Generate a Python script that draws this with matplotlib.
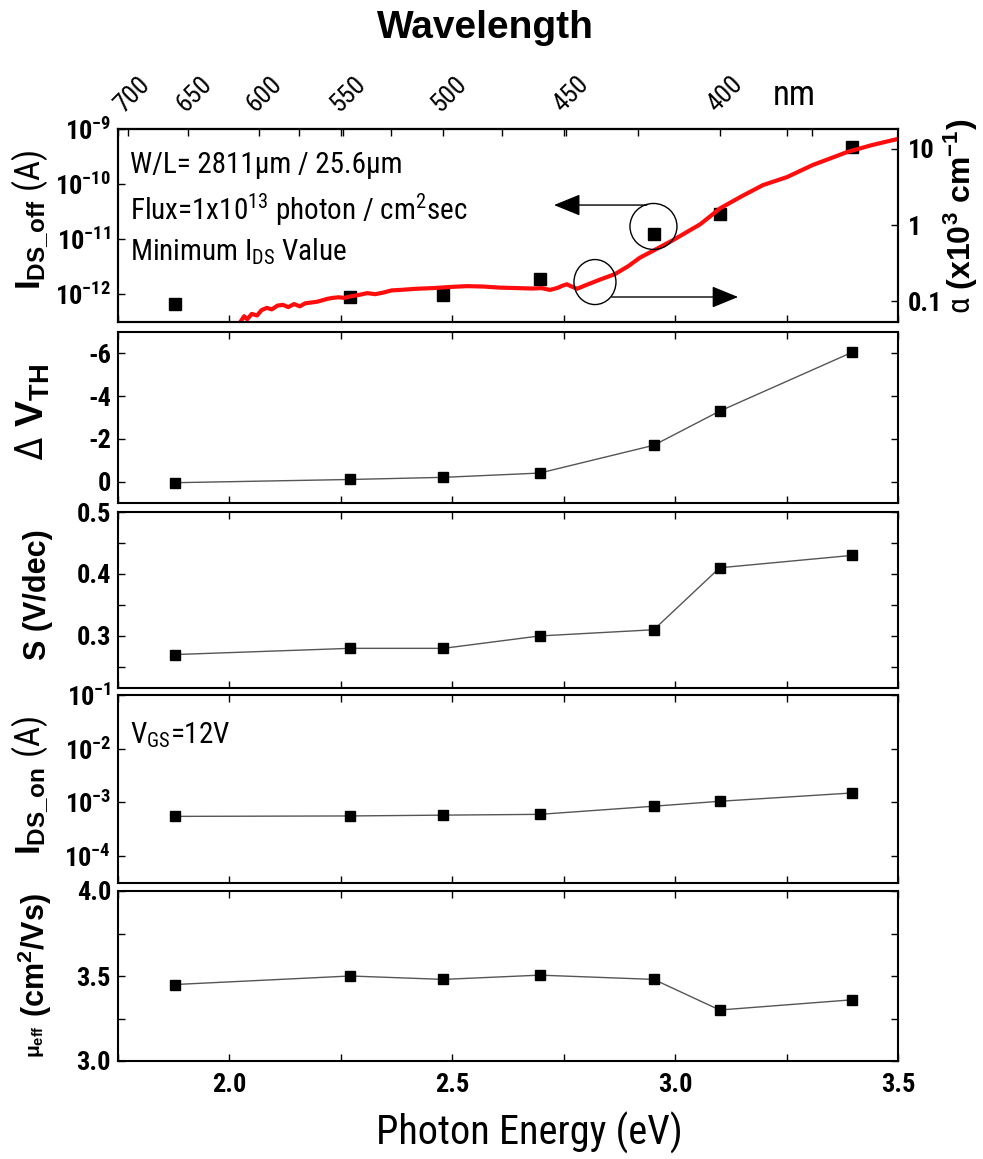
import numpy as np
import matplotlib
matplotlib.use("Agg")
import matplotlib.pyplot as plt
import matplotlib.font_manager as fm
from matplotlib.patches import Ellipse
from matplotlib.ticker import (FixedLocator, FixedFormatter, FuncFormatter,
                               MultipleLocator, NullLocator)

# ---------------------------------------------------------------- fonts
_installed = {f.name for f in fm.fontManager.ttflist}
WIDE = "Liberation Sans"
NARROW = WIDE
for _cand in ("Liberation Sans Narrow", "Roboto Condensed"):
    if _cand in _installed:
        NARROW = _cand
        break
IS_NARROW = NARROW != WIDE

plt.rcParams.update({
    "font.family": [NARROW, "DejaVu Sans"],
    "font.weight": "bold",
    "axes.unicode_minus": False,
    "mathtext.fontset": "custom",
    "mathtext.rm": NARROW + ":weight=normal",
    "mathtext.it": NARROW + ":italic:weight=normal",
    "mathtext.bf": NARROW + ":weight=bold",
    "mathtext.sf": WIDE + ":weight=bold",
    "xtick.labelsize": 19 if IS_NARROW else 17.5,
    "ytick.labelsize": 19 if IS_NARROW else 17.5,
})

# ---------------------------------------------------------------- data
wavelength_nm = [660, 546, 500, 460, 420, 400, 365]
photon_energy = [1.879, 2.271, 2.480, 2.696, 2.952, 3.100, 3.397]

ids_off = [6.6e-13, 8.9e-13, 9.6e-13, 1.9e-12, 1.23e-11, 2.9e-11, 4.7e-10]
delta_vth = [0.05, -0.1, -0.2, -0.4, -1.7, -3.3, -6.05]
swing = [0.27, 0.28, 0.28, 0.30, 0.31, 0.41, 0.43]
ids_on = [5.5e-4, 5.6e-4, 5.8e-4, 6.0e-4, 8.5e-4, 1.05e-3, 1.5e-3]
mobility = [3.45, 3.50, 3.48, 3.505, 3.48, 3.30, 3.36]

# absorption coefficient spectrum (x10^3 cm^-1)
absorption_energy = [
    2.024, 2.033, 2.040, 2.050, 2.062, 2.072, 2.084, 2.095, 2.108, 2.120,
    2.132, 2.145, 2.158, 2.170, 2.183, 2.196, 2.208, 2.220, 2.232, 2.245,
    2.258, 2.271, 2.290, 2.309, 2.327, 2.345, 2.364, 2.383, 2.420, 2.457,
    2.495, 2.533, 2.570, 2.607, 2.645, 2.680, 2.700, 2.719, 2.735, 2.746,
    2.757, 2.768, 2.780, 2.800, 2.831, 2.865, 2.895, 2.921, 2.960, 2.995,
    3.030, 3.056, 3.080, 3.101, 3.150, 3.197, 3.251, 3.309, 3.350, 3.386,
    3.440, 3.498,
]
absorption_alpha = [
    0.0525, 0.0631, 0.0575, 0.0676, 0.0646, 0.0759, 0.0813, 0.0776, 0.0871, 0.0891,
    0.0832, 0.0912, 0.0851, 0.0933, 0.0955, 0.0977, 0.102, 0.107, 0.110, 0.112,
    0.110, 0.115, 0.120, 0.127, 0.123, 0.129, 0.138, 0.140, 0.145, 0.148,
    0.153, 0.157, 0.155, 0.150, 0.148, 0.146, 0.148, 0.140, 0.148, 0.158,
    0.166, 0.155, 0.145, 0.162, 0.191, 0.226, 0.288, 0.372, 0.490, 0.631,
    0.832, 1.02, 1.32, 1.66, 2.40, 3.35, 4.27, 6.17, 7.59, 9.12,
    11.2, 13.5,
]

wl_major = [700, 650, 600, 550, 500, 450, 400]
wl_minor = [575, 525, 475, 425, 375]
alpha_ticks = [0.1, 1, 10]
alpha_labels = ["0.1", "1", "10"]

# ---------------------------------------------------------------- layout
FW, FH = 983, 1159
fig = plt.figure(figsize=(FW / 100, FH / 100), dpi=100)


def box(top, bottom, left=118, right=898):
    return [left / FW, 1 - bottom / FH, (right - left) / FW, (bottom - top) / FH]


ax1 = fig.add_axes(box(129, 322))
ax2 = fig.add_axes(box(332, 503))
ax3 = fig.add_axes(box(512, 688))
ax4 = fig.add_axes(box(695, 883))
ax5 = fig.add_axes(box(891, 1061))
panels = [ax1, ax2, ax3, ax4, ax5]

SPINE_W = 1.5
for ax in panels:
    ax.set_xlim(1.75, 3.5)
    ax.xaxis.set_major_locator(MultipleLocator(0.5))
    ax.xaxis.set_minor_locator(MultipleLocator(0.25))
    ax.tick_params(axis="both", which="both", direction="in", length=5,
                   width=1, top=True, right=True, labelbottom=False)
    ax.tick_params(axis="y", pad=5)
    ax.tick_params(axis="x", pad=9)
    for s in ax.spines.values():
        s.set_linewidth(SPINE_W)
ax1.tick_params(top=False, right=False)
ax5.tick_params(labelbottom=True)
ax5.xaxis.set_major_formatter(FuncFormatter(lambda v, p: f"{v:.1f}"))

pow10 = FuncFormatter(lambda v, p: r"$\mathbf{10^{%d}}$" % round(np.log10(v)))

# ---- panel 1: off current and absorption coefficient
ax1.set_yscale("log")
ax1.set_ylim(10 ** -12.5, 1e-9)
ax1.yaxis.set_major_locator(FixedLocator([1e-12, 1e-11, 1e-10, 1e-9]))
ax1.yaxis.set_minor_locator(NullLocator())
ax1.yaxis.set_major_formatter(pow10)
ax1.plot(photon_energy, ids_off, "s", color="black", ms=9, zorder=3)

ax1r = ax1.twinx()
ax1r.set_yscale("log")
ax1r.set_ylim(10 ** -1.276, 10 ** 1.263)
ax1r.yaxis.set_major_locator(FixedLocator(alpha_ticks))
ax1r.yaxis.set_major_formatter(FixedFormatter(alpha_labels))
ax1r.yaxis.set_minor_locator(NullLocator())
ax1r.tick_params(axis="y", which="both", direction="in", length=5, width=1, pad=7)
for s in ax1r.spines.values():
    s.set_linewidth(SPINE_W)
ax1r.plot(absorption_energy, absorption_alpha, color="#ff0d0d", lw=3, zorder=2)


def e2w(e):
    e = np.asarray(e, dtype=float)
    with np.errstate(divide="ignore"):
        return 1240.0 / e


sec = ax1.secondary_xaxis("top", functions=(e2w, e2w))
sec.set_xticks(wl_major, labels=[str(w) for w in wl_major], rotation=45,
               ha="left", va="bottom", rotation_mode="anchor", fontweight="normal")
sec.xaxis.set_minor_locator(FixedLocator(wl_minor))
sec.tick_params(axis="x", which="both", direction="in", length=5, width=1,
                pad=9, labelsize=19 if IS_NARROW else 17)
sec.spines["top"].set_linewidth(SPINE_W)

ann_size = 21 if IS_NARROW else 18.5
txt = dict(transform=ax1r.transAxes, family=NARROW, weight="normal",
           size=ann_size, va="baseline", ha="left")
ax1r.text(0.015, 0.772, "W/L= 2811μm / 25.6μm", **txt)
ax1r.text(0.015, 0.528, r"Flux=1x10$^{13}$ photon / cm$^{2}$sec", **txt)
ax1r.text(0.015, 0.321, r"Minimum I$_{\mathrm{DS}}$ Value", **txt)

ax1r.add_patch(Ellipse((0.6865, 0.495), 47 / 780, 46 / 193, transform=ax1r.transAxes,
                       fill=False, ec="black", lw=1, zorder=4))
ax1r.add_patch(Ellipse((0.6115, 0.207), 42 / 780, 45 / 193, transform=ax1r.transAxes,
                       fill=False, ec="black", lw=1, zorder=4))
arrow = dict(arrowstyle="-|>,head_length=1.1,head_width=0.45", mutation_scale=15,
             lw=1, color="black", shrinkA=0, shrinkB=0)
ax1r.annotate("", xy=(0.559, 0.606), xytext=(0.678, 0.606),
              xycoords="axes fraction", textcoords="axes fraction", arrowprops=arrow)
ax1r.annotate("", xy=(0.795, 0.1295), xytext=(0.633, 0.1295),
              xycoords="axes fraction", textcoords="axes fraction", arrowprops=arrow)

# ---- lower panels
line = dict(color="#555555", lw=1, marker="s", ms=7.5, mfc="black", mec="black")

ax2.plot(photon_energy, delta_vth, **line)
ax2.set_ylim(1, -7)
ax2.yaxis.set_major_locator(FixedLocator([-6, -4, -2, 0]))
ax2.yaxis.set_minor_locator(NullLocator())
ax2.yaxis.set_major_formatter(FuncFormatter(lambda v, p: f"{v:.0f}"))

ax3.plot(photon_energy, swing, **line)
ax3.set_ylim(0.216, 0.5)
ax3.yaxis.set_major_locator(FixedLocator([0.3, 0.4, 0.5]))
ax3.yaxis.set_minor_locator(FixedLocator([0.25, 0.35, 0.45]))
ax3.yaxis.set_major_formatter(FuncFormatter(lambda v, p: f"{v:.1f}"))

ax4.plot(photon_energy, ids_on, **line)
ax4.set_yscale("log")
ax4.set_ylim(10 ** -4.5, 1e-1)
ax4.yaxis.set_major_locator(FixedLocator([1e-4, 1e-3, 1e-2, 1e-1]))
ax4.yaxis.set_minor_locator(NullLocator())
ax4.yaxis.set_major_formatter(pow10)
ax4.text(0.015, 0.745, r"V$_{\mathrm{GS}}$=12V", transform=ax4.transAxes,
         family=NARROW, weight="normal", size=ann_size, va="baseline", ha="left")

ax5.plot(photon_energy, mobility, **line)
ax5.set_ylim(3.0, 4.0)
ax5.yaxis.set_major_locator(FixedLocator([3.0, 3.5, 4.0]))
ax5.yaxis.set_minor_locator(FixedLocator([3.25, 3.75]))
ax5.yaxis.set_major_formatter(FuncFormatter(lambda v, p: f"{v:.1f}"))

# ---------------------------------------------------------------- labels


def ftext(x, y, s, **kw):
    fig.text(x / FW, 1 - y / FH, s, **kw)


ftext(485, 38, "Wavelength", ha="center", va="baseline",
      family=WIDE, weight="bold", size=28)
ftext(773, 105, "nm", ha="left", va="baseline", family=NARROW, weight="normal",
      size=25 if IS_NARROW else 21)
ftext(529, 1145, "Photon Energy (eV)", ha="center", va="baseline", family=NARROW,
      weight="normal", size=29 if IS_NARROW else 25)

ylab = dict(rotation=90, ha="center", va="center", family=WIDE, weight="bold")
ftext(30, 220, r"I$_{\mathsf{DS\_off}}$ $\mathrm{(A)}$", size=25, **ylab)
ftext(33, 412, r"$\mathrm{\Delta}$ $\mathsf{V_{TH}}$", size=28, **ylab)
ftext(38, 595, "S (V/dec)", size=22, **ylab)
ftext(30, 785, r"I$_{\mathsf{DS\_on}}$ $\mathrm{(A)}$", size=25, **ylab)
ftext(35, 955, r"(cm$^{\mathsf{2}}$/Vs)", size=22, **ylab)
ftext(37, 1042, r"$\mathsf{\mu_{eff}}$", size=15, **ylab)
ftext(961, 216, r"$\mathrm{\alpha}$ (x10$^{\mathsf{3}}$ cm$^{\mathsf{-1}}$)", size=23, **ylab)

fig.savefig("out.png", dpi=100)
